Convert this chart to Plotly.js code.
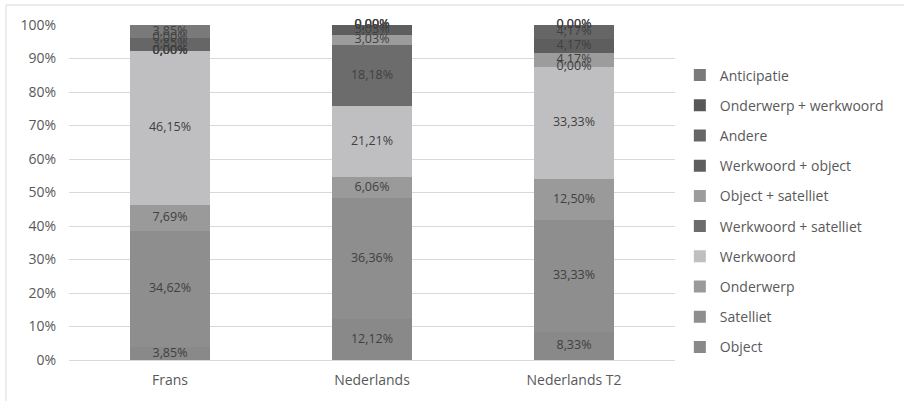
<!DOCTYPE html>
<html>
<head>
<meta charset="utf-8">
<script src="https://cdn.plot.ly/plotly-3.0.1.min.js"></script>
<style>
  html, body { margin: 0; padding: 0; background: #ffffff; }
  #chart { width: 904px; height: 401px; }
</style>
</head>
<body>
<div id="chart"></div>
<script>
// Categories on the x axis
const categories = ['Frans', 'Nederlands', 'Nederlands T2'];

// Stacked shares (%), from the bottom of each bar upward
const seriesNames = [
  'Object',
  'Satelliet',
  'Onderwerp',
  'Werkwoord',
  'Werkwoord + satelliet',
  'Object + satelliet',
  'Werkwoord + object',
  'Andere',
  'Onderwerp + werkwoord',
  'Anticipatie'
];
const objectVals              = [3.85, 12.12, 8.33];
const satellietVals           = [34.62, 36.36, 33.33];
const onderwerpVals           = [7.69, 6.06, 12.50];
const werkwoordVals           = [46.15, 21.21, 33.33];
const werkwoordSatellietVals  = [0.00, 18.18, 0.00];
const objectSatellietVals     = [0.00, 3.03, 4.17];
const werkwoordObjectVals     = [0.00, 3.03, 4.17];
const andereVals              = [3.85, 0.00, 4.17];
const onderwerpWerkwoordVals  = [0.00, 0.00, 0.00];
const anticipatieVals         = [3.85, 0.00, 0.00];

const seriesValues = [
  objectVals, satellietVals, onderwerpVals, werkwoordVals,
  werkwoordSatellietVals, objectSatellietVals, werkwoordObjectVals,
  andereVals, onderwerpWerkwoordVals, anticipatieVals
];

// Grey fills per series
const seriesColors = [
  '#898989', '#8e8e8e', '#9a9a9a', '#bfbfc1', '#6c6c6c',
  '#9c9c9c', '#5e5e5e', '#666666', '#585858', '#7a7a7a'
];

const yTickVals = [0, 10, 20, 30, 40, 50, 60, 70, 80, 90, 100];
const yTickText = ['0%', '10%', '20%', '30%', '40%', '50%', '60%', '70%', '80%', '90%', '100%'];

const FONT = '"Open Sans", "Noto Sans", sans-serif';
const fmt = v => v.toFixed(2).replace('.', ',') + '%';

const traces = [];
seriesNames.forEach((name, i) => {
  traces.push({
    type: 'bar',
    name: name,
    x: categories,
    y: seriesValues[i],
    marker: { color: seriesColors[i], line: { width: 0 } },
    legendgroup: 'g' + i,
    legendrank: 1000 - i * 10,   // top of the stack first in the legend
    hoverinfo: 'x+y+name'
  });
});

// Value labels centred on each stacked segment
const cumulative = categories.map(() => 0);
seriesNames.forEach((name, i) => {
  const vals = seriesValues[i];
  const mids = vals.map((v, j) => cumulative[j] + v / 2);
  vals.forEach((v, j) => { cumulative[j] += v; });
  traces.push({
    type: 'scatter',
    mode: 'text',
    x: categories,
    y: mids,
    text: vals.map(fmt),
    textposition: 'middle center',
    textfont: { family: FONT, size: 12.5, color: '#404040' },
    showlegend: false,
    hoverinfo: 'skip',
    cliponaxis: false
  });
});

const layout = {
  width: 904,
  height: 401,
  paper_bgcolor: '#ffffff',
  plot_bgcolor: '#ffffff',
  margin: { l: 69, r: 229, t: 25, b: 41 },
  barmode: 'stack',
  bargap: 0.6,
  font: { family: FONT, size: 14, color: '#595959' },
  xaxis: {
    type: 'category',
    showgrid: false,
    zeroline: false,
    showline: false,
    ticks: '',
    ticklabelstandoff: 10,
    tickfont: { family: FONT, size: 14, color: '#595959' }
  },
  yaxis: {
    range: [0, 100],
    tickvals: yTickVals,
    ticktext: yTickText,
    showgrid: true,
    gridcolor: '#d9d9d9',
    gridwidth: 1,
    zeroline: true,
    zerolinecolor: '#d9d9d9',
    showline: false,
    ticks: '',
    ticklabelstandoff: 12,
    tickfont: { family: FONT, size: 14, color: '#595959' }
  },
  legend: {
    x: 1.008,
    xanchor: 'left',
    y: 0.897,
    yanchor: 'top',
    traceorder: 'grouped',
    tracegroupgap: 9,
    font: { family: FONT, size: 14, color: '#595959' },
    bgcolor: 'rgba(0,0,0,0)'
  },
  shapes: [
    { type: 'line', xref: 'paper', yref: 'paper',
      x0: (6 - 69) / 606, x1: (904 - 69) / 606,
      y0: 1 + 20 / 335, y1: 1 + 20 / 335,
      line: { color: '#d9d9d9', width: 1 } },
    { type: 'line', xref: 'paper', yref: 'paper',
      x0: (6 - 69) / 606, x1: (6 - 69) / 606,
      y0: 1 + 20 / 335, y1: -41 / 335,
      line: { color: '#d9d9d9', width: 1 } }
  ],
  showlegend: true
};

Plotly.newPlot('chart', traces, layout, { displayModeBar: false, staticPlot: true });
</script>
</body>
</html>
